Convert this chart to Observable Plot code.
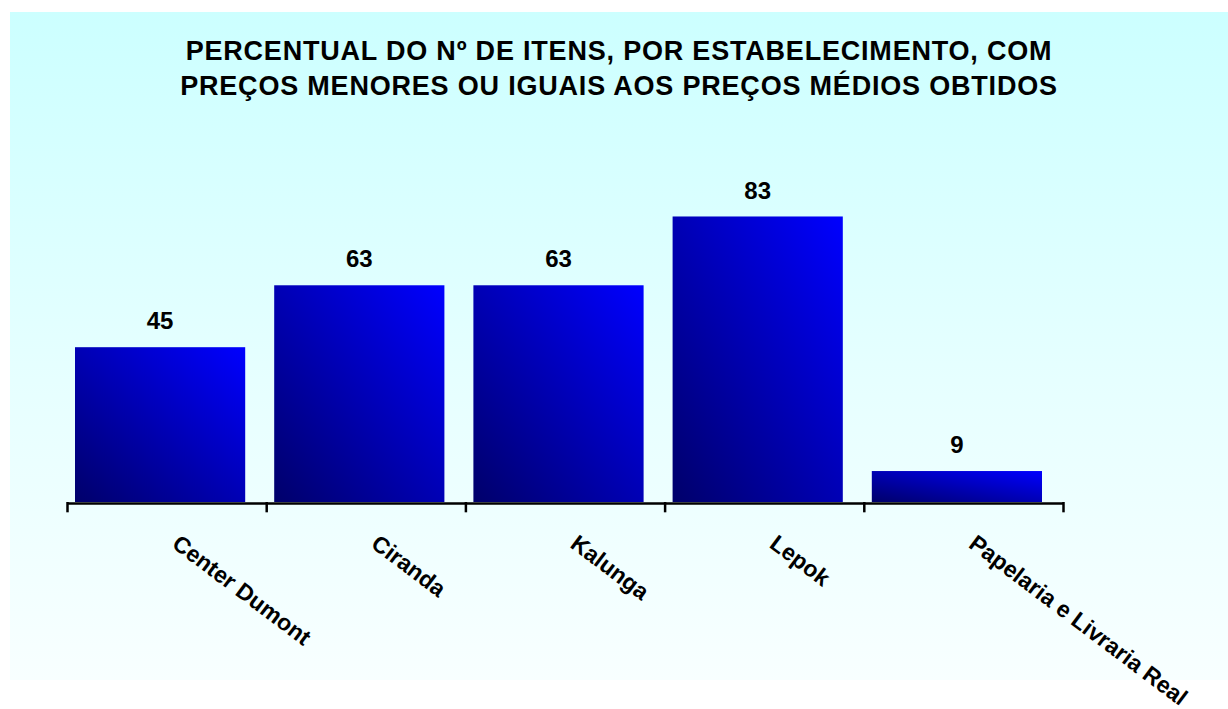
<!DOCTYPE html>
<html>
<head>
<meta charset="utf-8">
<script src="https://cdn.jsdelivr.net/npm/d3@7"></script>
<script src="https://cdn.jsdelivr.net/npm/@observablehq/plot@0.6"></script>
<style>
  html, body { margin: 0; padding: 0; background: #ffffff; }
  body { width: 1228px; height: 709px; position: relative; overflow: hidden; font-family: "Liberation Sans", Arial, sans-serif; }
  #panel { position: absolute; left: 10px; top: 12px; width: 1218px; height: 668px;
           background: linear-gradient(to bottom, #ccffff 0%, #e6ffff 55%, #f8ffff 100%); }
  #title { position: absolute; left: 10px; top: 34px; width: 1218px; text-align: center;
           font: bold 27px "Liberation Sans", Arial, sans-serif; line-height: 35px; letter-spacing: 0.8px; color: #000; }
  #chart { position: absolute; left: 0; top: 110px; }
</style>
</head>
<body>
<div id="panel"></div>
<div id="title">PERCENTUAL DO Nº DE ITENS, POR ESTABELECIMENTO, COM<br>PREÇOS MENORES OU IGUAIS AOS PREÇOS MÉDIOS OBTIDOS</div>
<div id="chart"></div>
<script>
const categories = ["Center Dumont", "Ciranda", "Kalunga", "Lepok", "Papelaria e Livraria Real"];
const values = [45, 63, 63, 83, 9];

const data = categories.map((name, i) => ({name, value: values[i]}));

const W = 1228, H = 599;
const mL = 67, mR = 165, mT = 48, mB = 207;
const step = (W - mL - mR) / categories.length;
const font = "Liberation Sans, Arial, sans-serif";

const plot = Plot.plot({
  width: W,
  height: H,
  marginLeft: mL,
  marginRight: mR,
  marginTop: mT,
  marginBottom: mB,
  style: {background: "transparent", overflow: "visible", fontFamily: font},
  x: {domain: categories, padding: 0, round: false, axis: null},
  y: {domain: [0, 100], axis: null},
  marks: [
    Plot.barY(data, {x: "name", y: "value", insetLeft: 8, insetRight: 21, fill: "url(#barGrad)"}),
    Plot.ruleY([0], {stroke: "#000", strokeWidth: 2.5, dy: 1}),
    Plot.ruleX(data, {x: "name", dx: -step / 2, y1: 0, y2: -3, stroke: "#000", strokeWidth: 2.5}),
    Plot.ruleX(data.slice(-1), {x: "name", dx: step / 2, y1: 0, y2: -3, stroke: "#000", strokeWidth: 2.5}),
    Plot.text(data, {x: "name", y: "value", text: d => String(d.value), dx: -7, dy: -26,
      fontSize: 24, fontWeight: "bold", fill: "#000", lineAnchor: "middle"}),
    Plot.text(data, {x: "name", y: 0, text: "name", dx: 8, dy: 38, rotate: 37, textAnchor: "start",
      fontSize: 23, fontWeight: "bold", fill: "#000", lineAnchor: "middle"})
  ]
});

const ns = "http://www.w3.org/2000/svg";
const defs = document.createElementNS(ns, "defs");
const grad = document.createElementNS(ns, "linearGradient");
grad.setAttribute("id", "barGrad");
grad.setAttribute("x1", "0"); grad.setAttribute("y1", "1");
grad.setAttribute("x2", "1"); grad.setAttribute("y2", "0");
[["0%", "#00006a"], ["100%", "#0000ff"]].forEach(([o, c]) => {
  const s = document.createElementNS(ns, "stop");
  s.setAttribute("offset", o); s.setAttribute("stop-color", c);
  grad.appendChild(s);
});
defs.appendChild(grad);
plot.insertBefore(defs, plot.firstChild);

document.getElementById("chart").appendChild(plot);
</script>
</body>
</html>
